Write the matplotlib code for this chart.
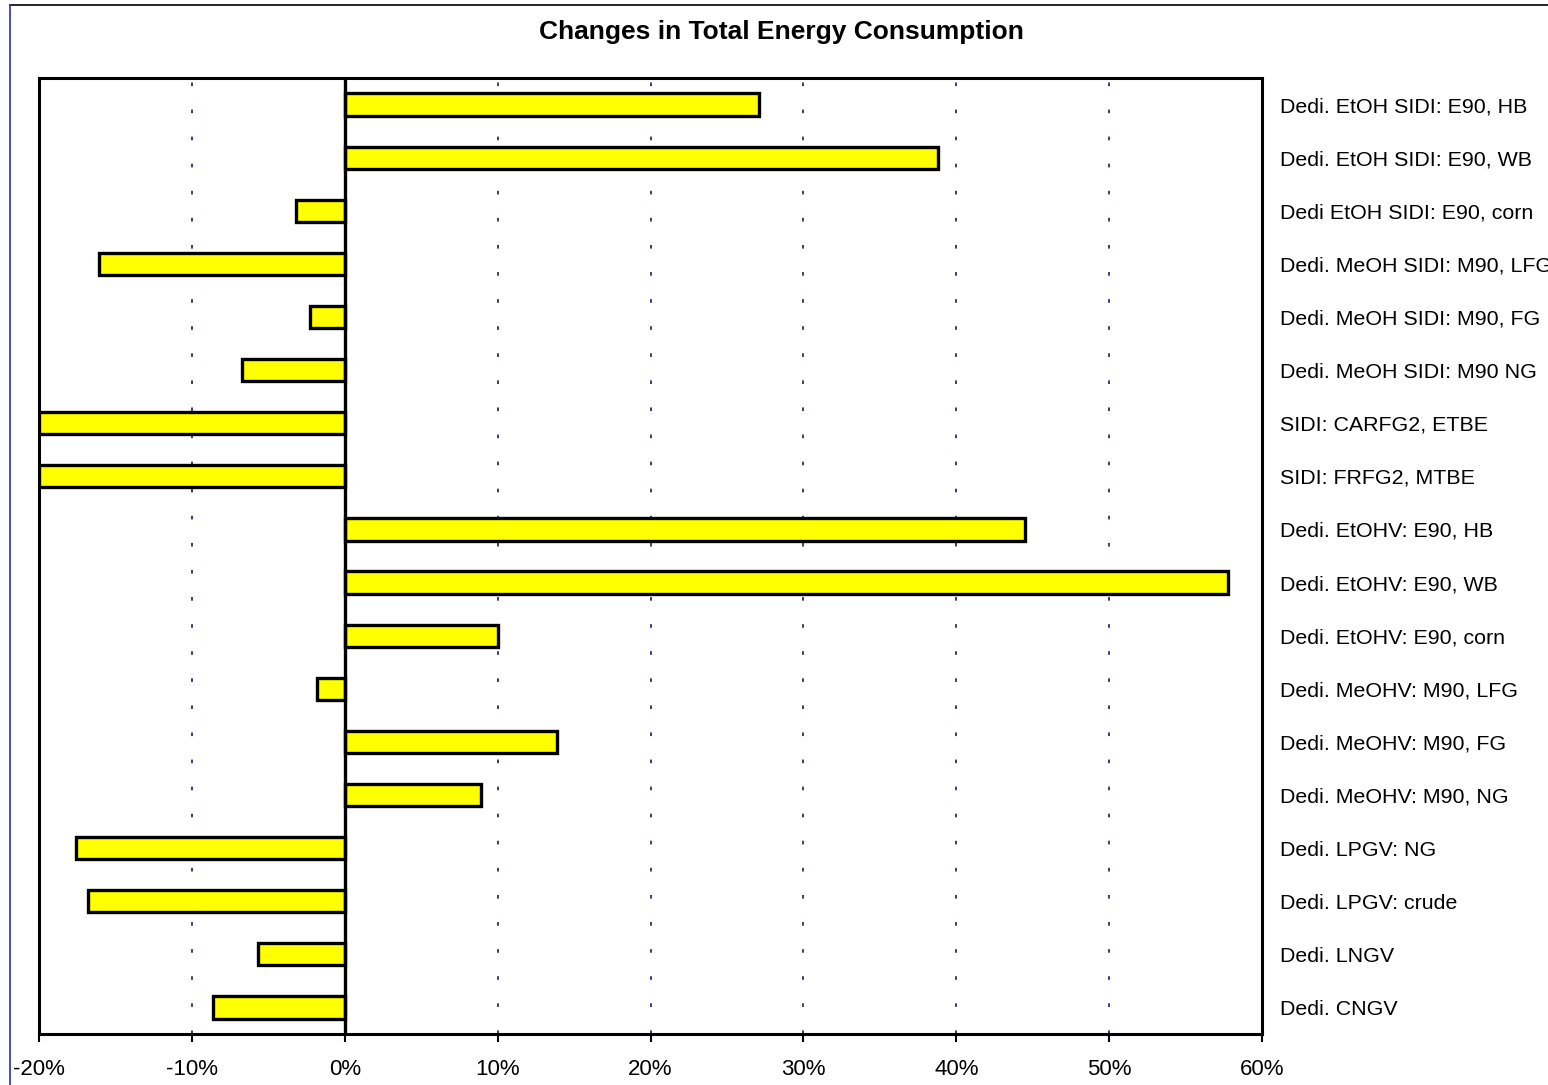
import numpy as np
import matplotlib
matplotlib.use("Agg")
import matplotlib.pyplot as plt
from matplotlib.ticker import FuncFormatter
from matplotlib.lines import Line2D

plt.rcParams['font.family'] = ['Liberation Sans', 'DejaVu Sans']

# Pathways, top to bottom
labels = [
    "Dedi. EtOH SIDI: E90, HB",
    "Dedi. EtOH SIDI: E90, WB",
    "Dedi EtOH SIDI: E90, corn",
    "Dedi. MeOH SIDI: M90, LFG",
    "Dedi. MeOH SIDI: M90, FG",
    "Dedi. MeOH SIDI: M90 NG",
    "SIDI: CARFG2, ETBE",
    "SIDI: FRFG2, MTBE",
    "Dedi. EtOHV: E90, HB",
    "Dedi. EtOHV: E90, WB",
    "Dedi. EtOHV: E90, corn",
    "Dedi. MeOHV: M90, LFG",
    "Dedi. MeOHV: M90, FG",
    "Dedi. MeOHV: M90, NG",
    "Dedi. LPGV: NG",
    "Dedi. LPGV: crude",
    "Dedi. LNGV",
    "Dedi. CNGV",
]
# change in total energy consumption (fraction)
changes = [0.271, 0.388, -0.032, -0.161, -0.023, -0.067, -0.20, -0.20,
           0.445, 0.578, 0.100, -0.018, 0.139, 0.089, -0.176, -0.168,
           -0.057, -0.086]

fig = plt.figure(figsize=(15.48, 10.85), dpi=100)
ax = fig.add_axes([39 / 1548, 1 - 1034 / 1085, (1262 - 39) / 1548, (1034 - 78) / 1085])

y = np.arange(len(labels))
ax.barh(y, changes, height=0.42, color='#ffff00', edgecolor='black', linewidth=2.4, zorder=3)

ax.set_xlim(-0.2, 0.6)
ax.set_ylim(len(labels) - 0.5, -0.5)
ax.set_xticks(np.arange(-0.2, 0.61, 0.1))
ax.xaxis.set_major_formatter(FuncFormatter(lambda v, p: f"{v * 100:.0f}%"))

# dashed gridlines, solid zero line
for gx in np.arange(-0.1, 0.51, 0.1):
    if abs(gx) > 1e-9:
        ax.axvline(gx, color='#2a2a6a', linestyle=(0, (2, 13)), linewidth=1.3, zorder=1)
ax.axvline(0, color='black', linewidth=2.4, zorder=4)

ax.yaxis.tick_right()
ax.set_yticks(y)
ax.set_yticklabels(labels, fontsize=15.4)
ax.tick_params(axis='y', length=0, pad=13)
ax.tick_params(axis='x', length=6, width=1.5, labelsize=16, pad=12)
for s in ax.spines.values():
    s.set_linewidth(2.2)

fig.text(0.505, 1 - 32 / 1085, "Changes in Total Energy Consumption",
         ha='center', va='center', fontsize=19, fontweight='bold')

# outer chart frame
fig.add_artist(Line2D([10 / 1548, 1.0], [1 - 5 / 1085] * 2, color='black', linewidth=1.2))
fig.add_artist(Line2D([10 / 1548] * 2, [0, 1 - 5 / 1085], color='#3030a0', linewidth=1.2))

fig.savefig("out.png", dpi=100)
